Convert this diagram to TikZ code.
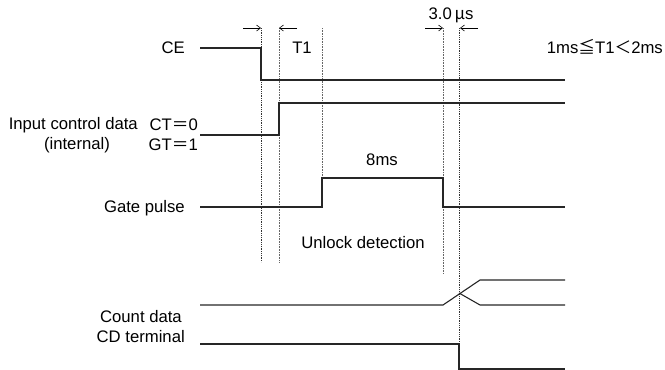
\documentclass[tikz,border=0pt]{standalone}
\usepackage{fontspec}
\setmainfont{Liberation Sans}
\newfontfamily\cjk{Noto Sans CJK JP}
\usetikzlibrary{arrows.meta}
\begin{document}
\begin{tikzpicture}[x=1pt,y=-1pt,
  lbl/.style={inner sep=0pt,font=\fontsize{16.7}{19}\selectfont},
  sig/.style={line width=1.1pt,black!85},
  guide/.style={line width=0.8pt,densely dotted,black!80},
  guidel/.style={line width=0.6pt,densely dotted,black!60},
  dimarr/.style={line width=0.6pt,-{Straight Barb[length=4pt,width=6pt]}}]
\useasboundingbox (0,0) rectangle (665,370);
% guides
\coordinate (g1t) at (261,28); \coordinate (g1b) at (261,262);
\coordinate (g2t) at (279,28); \coordinate (g2b) at (279,262);
\coordinate (g3t) at (322,28); \coordinate (g3b) at (322,178);
\coordinate (g4t) at (443,28); \coordinate (g4b) at (443,273);
\coordinate (g5t) at (459,28); \coordinate (g5b) at (459,345);
\draw[guide] (g1t) -- (g1b);
\draw[guidel] (g2t) -- (g2b);
\draw[guidel] (g3t) -- (g3b);
\draw[guidel] (g4t) -- (g4b);
\draw[guide] (g5t) -- (g5b);
% CE
\draw[sig] (200,48) -- (261,48) -- (261,80) -- (565,80);
% input control data
\draw[sig] (200,135) -- (279,135) -- (279,103) -- (565,103);
% gate pulse
\draw[sig] (200,207) -- (322,207) -- (322,178) -- (443,178) -- (443,207) -- (565,207);
% count data
\draw[sig] (200,305) -- (443,305) -- (480,280) -- (565,280);
\draw[sig] (459,293) -- (480,305) -- (565,305);
% CD terminal
\draw[sig] (200,344) -- (459,344) -- (459,369) -- (565,369);
% dimension arrows
\coordinate (a1s) at (243,28); \coordinate (a1e) at (261,28);
\coordinate (a2s) at (297,28); \coordinate (a2e) at (279,28);
\coordinate (a3s) at (425,28); \coordinate (a3e) at (443,28);
\coordinate (a4s) at (478,28); \coordinate (a4e) at (460,28);
\draw[dimarr] (a1s) -- (a1e);
\draw[dimarr] (a2s) -- (a2e);
\draw[dimarr] (a3s) -- (a3e);
\draw[dimarr] (a4s) -- (a4e);
% labels
\node[lbl] (t1) at (302,48) {T1};
\node[lbl] (us) at (451,15) {3.0\,{\cjk μ}s};
\node[lbl,anchor=east] (rng) at (663,47) {1ms{\cjk ≦}T1{\cjk ＜}2ms};
\node[lbl,anchor=east] (ce) at (185,48) {CE};
\node[lbl,anchor=east] (ct) at (198,125) {CT{\cjk ＝}0};
\node[lbl,anchor=east] (icd) at (138,125) {Input control data};
\node[lbl] (int) at (77,145) {(internal)};
\node[lbl,anchor=east] (gt) at (198,145) {GT{\cjk ＝}1};
\node[lbl,anchor=east] (gp) at (185,208) {Gate pulse};
\node[lbl] (ms8) at (382,160) {8ms};
\node[lbl] (ud) at (363,243) {Unlock detection};
\node[lbl,anchor=east] (cd) at (182,317) {Count data};
\node[lbl,anchor=east] (cdt) at (185,337) {CD terminal};
\end{tikzpicture}
\end{document}
